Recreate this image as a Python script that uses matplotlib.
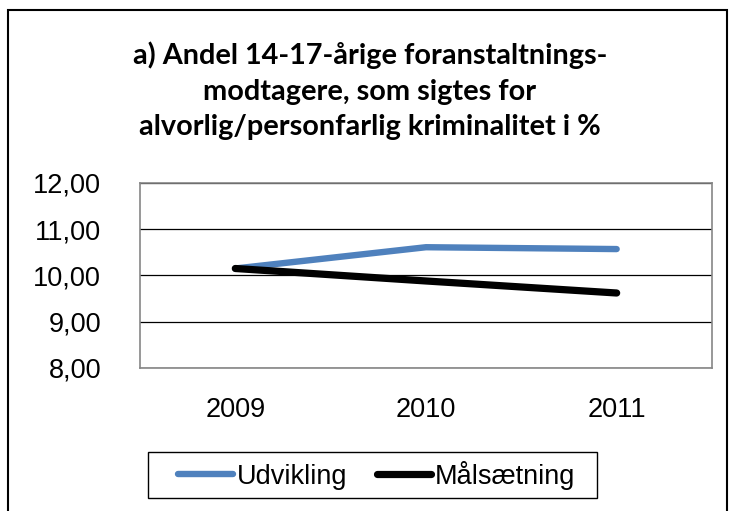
import matplotlib.pyplot as plt
from matplotlib.patches import Rectangle
from matplotlib.ticker import FuncFormatter

years = ["2009", "2010", "2011"]
udvikling = [10.15, 10.61, 10.57]
maalsaetning = [10.15, 9.88, 9.62]
y_ticks = [8, 9, 10, 11, 12]
title = "a) Andel 14-17-årige foranstaltnings-\nmodtagere, som sigtes for\nalvorlig/personfarlig kriminalitet i %"

plt.rcParams["font.family"] = ["Liberation Sans", "DejaVu Sans"]

W, H = 731, 511
fig = plt.figure(figsize=(W / 100, H / 100), dpi=100)
ax = fig.add_axes([0.1915, 0.28, 0.7825, 0.362])

x = range(len(years))
ax.plot(x, udvikling, color="#4F81BD", lw=4.6, solid_capstyle="round", label="Udvikling", zorder=3)
ax.plot(x, maalsaetning, color="black", lw=5.2, solid_capstyle="round", label="Målsætning", zorder=4)

ax.set_xlim(-0.5, 2.5)
ax.set_ylim(8, 12)
ax.set_xticks(list(x))
ax.set_xticklabels(years)
ax.set_yticks(y_ticks)
ax.yaxis.set_major_formatter(FuncFormatter(lambda v, p: f"{v:.2f}".replace(".", ",")))
ax.tick_params(axis="both", length=0, labelsize=19.5)
ax.tick_params(axis="y", pad=28)
ax.tick_params(axis="x", pad=21)
ax.grid(axis="y", color="black", lw=0.9)
ax.set_axisbelow(True)
for s in ax.spines.values():
    s.set_color("#868686")
    s.set_linewidth(1.2)

fig.text(0.506, 0.822, title, ha="center", va="center", fontsize=20.8,
         fontweight="bold", family=["Lato", "DejaVu Sans"], linespacing=1.45)

# legend content without frame, frame drawn separately (Excel-style wide box)
leg = fig.legend(loc="center", bbox_to_anchor=(377 / W, 1 - 475 / H), ncol=2, fontsize=19.5,
                 frameon=False, handlelength=2.0, handletextpad=0.15,
                 columnspacing=1.1, borderpad=0.2)
fig.add_artist(Rectangle((148 / W, 1 - 498 / H), 449 / W, 46 / H, transform=fig.transFigure,
                         fill=False, edgecolor="black", lw=1.0))

# outer chart border
fig.add_artist(Rectangle((8 / W, -0.05), 719 / W, 1.05 - 10 / H, transform=fig.transFigure,
                         fill=False, edgecolor="black", lw=1.5))

fig.savefig("out.png", dpi=100)
